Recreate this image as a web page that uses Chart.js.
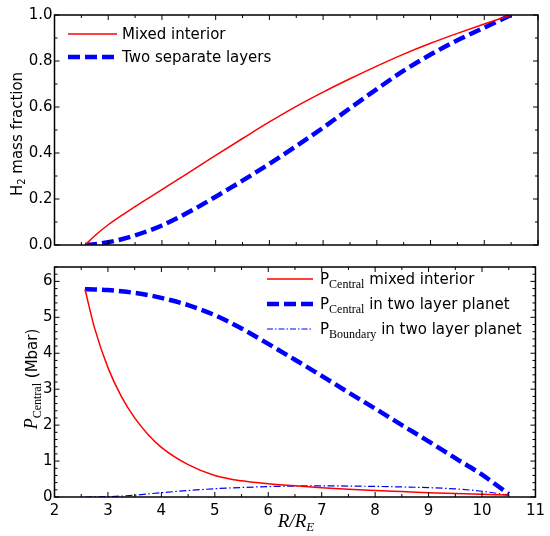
<!DOCTYPE html>
<html><head>
<meta charset="utf-8">
<script src="https://cdn.jsdelivr.net/npm/chart.js@4.4.1/dist/chart.umd.min.js"></script>
<style>
html,body{margin:0;padding:0;background:#fff;}
#wrap{position:relative;width:550px;height:536px;}
#w1{position:absolute;left:0;top:0;width:550px;height:256px;}
#w2{position:absolute;left:0;top:256px;width:550px;height:280px;}
</style></head><body>
<div id="wrap"><div id="w1"><canvas id="c1"></canvas></div><div id="w2"><canvas id="c2"></canvas></div></div>
<script>
// ---- data ----
const radius = [2.57, 2.75, 3.0, 3.25, 3.5, 3.75, 4.0, 4.5, 5.0, 5.5, 6.0, 6.5, 7.0, 7.5, 8.0, 8.5, 9.0, 9.5, 10.0, 10.5];
const h2Mixed = [0, 0.04, 0.088, 0.129, 0.167, 0.204, 0.241, 0.315, 0.39, 0.463, 0.535, 0.603, 0.665, 0.723, 0.778, 0.83, 0.877, 0.92, 0.961, 1.0];
const h2Layers = [0, 0.003, 0.012, 0.025, 0.042, 0.062, 0.085, 0.143, 0.21, 0.28, 0.353, 0.43, 0.51, 0.595, 0.678, 0.758, 0.828, 0.89, 0.945, 1.0];
const pCentralMixed = [5.78, 4.7, 3.6, 2.8, 2.2, 1.74, 1.38, 0.9, 0.6, 0.45, 0.37, 0.31, 0.26, 0.215, 0.18, 0.15, 0.12, 0.095, 0.075, 0.055];
const pCentralLayers = [5.78, 5.775, 5.76, 5.725, 5.68, 5.62, 5.54, 5.34, 5.06, 4.69, 4.26, 3.82, 3.37, 2.91, 2.46, 2.0, 1.55, 1.08, 0.62, 0.08];
const pBoundaryLayers = [0, 0.002, 0.01, 0.025, 0.05, 0.085, 0.12, 0.18, 0.23, 0.265, 0.29, 0.305, 0.31, 0.305, 0.295, 0.28, 0.26, 0.225, 0.16, 0.05];
const xTicks = [2, 3, 4, 5, 6, 7, 8, 9, 10, 11];
const yTicksTop = [0.0, 0.2, 0.4, 0.6, 0.8, 1.0];
const yTicksBottom = [0, 1, 2, 3, 4, 5, 6];

const pts = (xs, ys) => xs.map((x, i) => ({x: x, y: ys[i]}));
const SANS = '"DejaVu Sans", sans-serif';
const SERIF = '"Liberation Serif", "DejaVu Serif", serif';

function tickPlugin(minorX, minorY) {
  return {
    id: 'frameTicks',
    afterDraw(chart) {
      const {ctx, chartArea: a, scales: {x, y}} = chart;
      ctx.save();
      ctx.strokeStyle = '#000';
      ctx.lineWidth = 1;
      const seg = (x1, y1, x2, y2) => { ctx.beginPath(); ctx.moveTo(x1, y1); ctx.lineTo(x2, y2); ctx.stroke(); };
      const xmaj = xTicks, ymaj = chart.options.scales.y.majorTicks;
      for (let v = x.min; v <= x.max + 1e-9; v += minorX) {
        const p = x.getPixelForValue(v);
        const L = xmaj.some(t => Math.abs(t - v) < 1e-6) ? 5 : 3;
        seg(p, a.bottom, p, a.bottom - L); seg(p, a.top, p, a.top + L);
      }
      for (let v = y.min; v <= y.max + 1e-9; v += minorY) {
        const p = y.getPixelForValue(v);
        const L = ymaj.some(t => Math.abs(t - v) < 1e-6) ? 5 : 3;
        seg(a.left, p, a.left + L, p); seg(a.right, p, a.right - L, p);
      }
      ctx.lineWidth = 1.5;
      ctx.strokeRect(a.left, a.top, a.right - a.left, a.bottom - a.top);
      ctx.restore();
    }
  };
}

function drawRich(ctx, parts, cx, cy, rot) {
  ctx.save();
  ctx.translate(cx, cy);
  ctx.rotate(rot);
  ctx.textBaseline = 'alphabetic';
  ctx.fillStyle = '#000';
  let total = 0;
  parts.forEach(p => { ctx.font = p.font; p.w = ctx.measureText(p.t).width; total += p.w; });
  let xx = -total / 2;
  parts.forEach(p => { ctx.font = p.font; ctx.fillText(p.t, xx, (p.dy || 0)); xx += p.w; });
  ctx.restore();
}
function drawLegendText(ctx, parts, x, y) {
  ctx.save();
  ctx.textBaseline = 'alphabetic';
  ctx.fillStyle = '#000';
  let xx = x;
  parts.forEach(p => { ctx.font = p.font; ctx.fillText(p.t, xx, y + (p.dy || 0)); xx += ctx.measureText(p.t).width; });
  ctx.restore();
}
function sample(ctx, x1, x2, y, color, lw, dash) {
  ctx.save();
  ctx.strokeStyle = color; ctx.lineWidth = lw; ctx.setLineDash(dash);
  ctx.beginPath(); ctx.moveTo(x1, y); ctx.lineTo(x2, y); ctx.stroke();
  ctx.restore();
}

const topDecor = {
  id: 'topDecor',
  afterDraw(chart) {
    const ctx = chart.ctx;
    drawRich(ctx, [
      {t: 'H', font: '15px ' + SANS},
      {t: '2', font: '10px ' + SANS, dy: 3},
      {t: ' mass fraction', font: '15px ' + SANS}
    ], 22, 134, -Math.PI / 2);
    sample(ctx, 68, 117, 34, '#ff0000', 1.5, []);
    drawLegendText(ctx, [{t: 'Mixed interior', font: '15px ' + SANS}], 122, 39);
    sample(ctx, 68, 117, 57, '#0000ff', 4.5, [12, 5]);
    drawLegendText(ctx, [{t: 'Two separate layers', font: '15px ' + SANS}], 122, 62);
  }
};

const bottomDecor = {
  id: 'bottomDecor',
  afterDraw(chart) {
    const ctx = chart.ctx;
    drawRich(ctx, [
      {t: 'P', font: 'italic 18px ' + SERIF},
      {t: 'Central', font: '12px ' + SERIF, dy: 4},
      {t: ' (Mbar)', font: '15px ' + SANS}
    ], 37, 123, -Math.PI / 2);
    drawRich(ctx, [
      {t: 'R/R', font: 'italic 19px ' + SERIF},
      {t: 'E', font: 'italic 13px ' + SERIF, dy: 4}
    ], 296, 271, 0);
    const rows = [
      {y: 23, color: '#ff0000', lw: 1.5, dash: [], sub: 'Central', rest: ' mixed interior'},
      {y: 48, color: '#0000ff', lw: 4.5, dash: [12, 5], sub: 'Central', rest: ' in two layer planet'},
      {y: 73, color: '#0000ff', lw: 1.2, dash: [6, 2, 1.5, 2], sub: 'Boundary', rest: ' in two layer planet'}
    ];
    rows.forEach(r => {
      sample(ctx, 267, 313, r.y, r.color, r.lw, r.dash);
      drawLegendText(ctx, [
        {t: 'P', font: '15px ' + SANS},
        {t: r.sub, font: '12px ' + SERIF, dy: 4},
        {t: r.rest, font: '15px ' + SANS}
      ], 320, r.y + 5);
    });
  }
};

const baseX = (showLabels) => ({
  type: 'linear', min: 2, max: 11,
  grid: {display: false, drawTicks: false},
  border: {display: false},
  ticks: {display: showLabels, stepSize: 1, padding: 5, color: '#000', font: {family: SANS, size: 15}},
  afterFit: s => { s.height = showLabels ? 39 : 3; }
});

const ds = (label, ys, color, lw, dash) => ({
  label, data: pts(radius, ys), borderColor: color, borderWidth: lw, borderDash: dash,
  pointRadius: 0, showLine: true, fill: false, cubicInterpolationMode: 'monotone'
});

new Chart(document.getElementById('c1'), {
  type: 'scatter',
  data: {datasets: [
    ds('Mixed interior', h2Mixed, '#ff0000', 1.5, []),
    ds('Two separate layers', h2Layers, '#0000ff', 4.5, [12, 5])
  ]},
  options: {
    responsive: true, maintainAspectRatio: false, animation: false,
    layout: {padding: {top: 15, right: 12, left: 0, bottom: 0}},
    plugins: {legend: {display: false}, tooltip: {enabled: false}},
    scales: {
      x: baseX(false),
      y: {
        type: 'linear', min: 0, max: 1, majorTicks: yTicksTop,
        grid: {display: false, drawTicks: false}, border: {display: false},
        ticks: {stepSize: 0.2, padding: 2, color: '#000', font: {family: SANS, size: 15},
          callback: v => v.toFixed(1)},
        afterFit: s => { s.width = 54.5; }
      }
    }
  },
  plugins: [tickPlugin(0.5, 0.1), topDecor]
});

new Chart(document.getElementById('c2'), {
  type: 'scatter',
  data: {datasets: [
    ds('P Central mixed interior', pCentralMixed, '#ff0000', 1.5, []),
    ds('P Central in two layer planet', pCentralLayers, '#0000ff', 4.5, [12, 5]),
    ds('P Boundary in two layer planet', pBoundaryLayers, '#0000ff', 1.2, [7, 2.5, 1.5, 2.5])
  ]},
  options: {
    responsive: true, maintainAspectRatio: false, animation: false,
    layout: {padding: {top: 3, right: 12, left: 0, bottom: 0}},
    plugins: {legend: {display: false}, tooltip: {enabled: false}},
    scales: {
      x: baseX(true),
      y: {
        type: 'linear', min: 0, max: 6.4, majorTicks: yTicksBottom,
        grid: {display: false, drawTicks: false}, border: {display: false},
        ticks: {stepSize: 1, includeBounds: false, padding: 2, color: '#000', font: {family: SANS, size: 15}},
        afterFit: s => { s.width = 54.5; }
      }
    }
  },
  plugins: [tickPlugin(0.5, 0.2), bottomDecor]
});
</script>
</body></html>
